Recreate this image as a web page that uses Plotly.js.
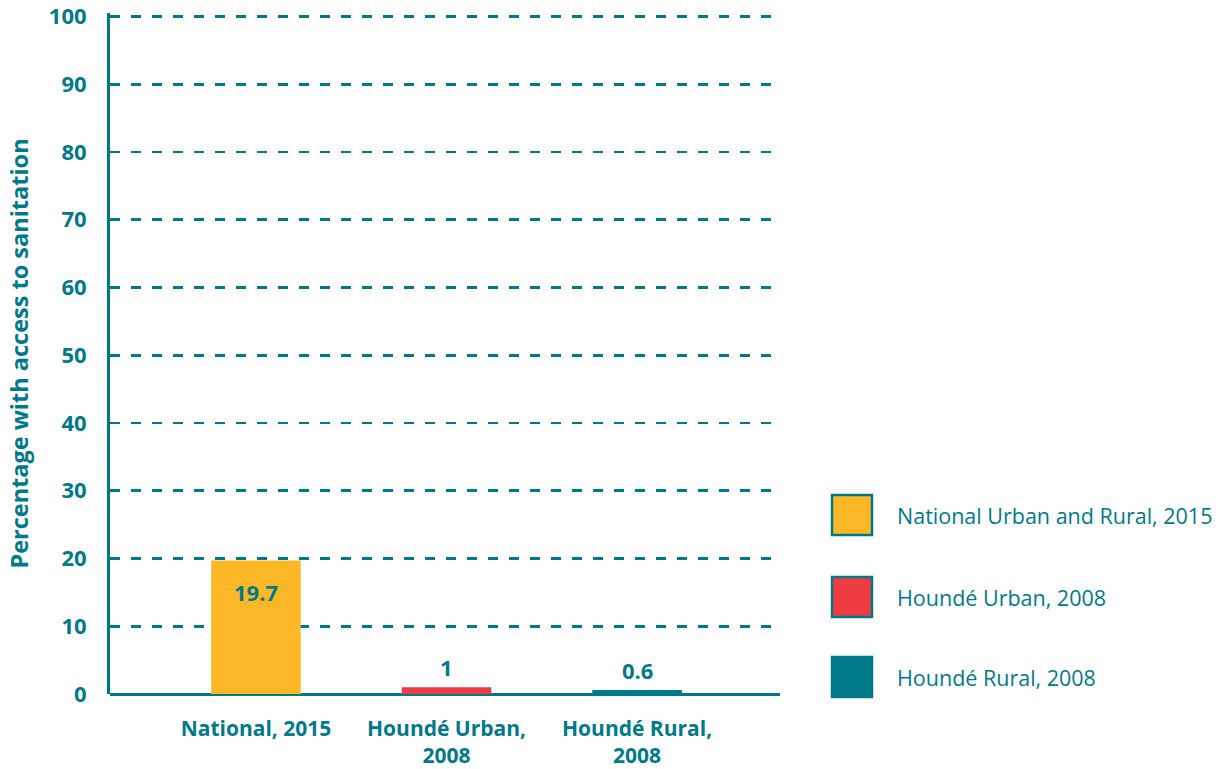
<!DOCTYPE html>
<html><head><meta charset="utf-8">
<script src="https://cdn.plot.ly/plotly-3.0.1.min.js"></script>
<style>html,body{margin:0;padding:0;background:#fff}#chart{width:1220px;height:769px}</style>
</head><body><div id="chart"></div>
<script>
const categories = ["National, 2015", "Houndé Urban,<br>2008", "Houndé Rural,<br>2008"];
const values = [19.7, 1, 0.6];
const valueLabels = ["19.7", "1", "0.6"];
const labelInside = [true, false, false];
const seriesNames = ["National Urban and Rural, 2015", "Houndé Urban, 2008", "Houndé Rural, 2008"];
const colors = ["#FBB725", "#EF3B42", "#007A8A"];
const tickVals = [0,10,20,30,40,50,60,70,80,90,100];

const teal = "#007A8A";
const FONT = "'Open Sans', Lato, sans-serif";

const trace = {
  type: "bar",
  x: categories,
  y: values,
  width: 0.47,
  marker: {color: colors, line: {width: 0}},
  hoverinfo: "none",
  showlegend: false
};

const plotTop = 12.6, plotBottom = 694, plotLeft = 110, plotRight = 780;
const toPY = p => (plotBottom - p) / (plotBottom - plotTop);
const toPX = p => (p - plotLeft) / (plotRight - plotLeft);

const shapes = [];
const annotations = [];

categories.forEach((c, i) => {
  annotations.push({
    xref: "x", yref: "y", x: c, y: values[i],
    text: valueLabels[i], showarrow: false,
    yanchor: labelInside[i] ? "top" : "bottom",
    yshift: labelInside[i] ? -14 : 3,
    font: {family: FONT, size: 22, color: teal, weight: 700}
  });
});

const legY = [515, 597, 677];
seriesNames.forEach((name, i) => {
  const yc = legY[i];
  shapes.push({type: "rect", xref: "paper", yref: "paper",
    x0: toPX(832), x1: toPX(872), y0: toPY(yc + 20), y1: toPY(yc - 20),
    fillcolor: colors[i], line: {color: teal, width: 2.5}});
  annotations.push({xref: "paper", yref: "paper", x: toPX(895), y: toPY(yc),
    xanchor: "left", yanchor: "middle", showarrow: false, text: name,
    font: {family: FONT, size: 21.5, color: teal}});
});

const layout = {
  width: 1220, height: 769,
  margin: {l: plotLeft, r: 1220 - plotRight, t: plotTop, b: 769 - plotBottom},
  paper_bgcolor: "#fff", plot_bgcolor: "#fff",
  xaxis: {
    type: "category",
    range: [-0.766, 2.75],
    showgrid: false, zeroline: false, showline: false,
    ticks: "", tickfont: {family: FONT, size: 21, color: teal, weight: 700},
    ticklabelstandoff: 20, fixedrange: true
  },
  yaxis: {
    range: [0, 100.5],
    tickvals: tickVals,
    showgrid: true, gridcolor: teal, gridwidth: 2.7, griddash: "10px,11px",
    zeroline: true, zerolinecolor: teal, zerolinewidth: 3,
    showline: true, linecolor: teal, linewidth: 3,
    ticks: "", tickfont: {family: FONT, size: 22, color: teal, weight: 700},
    ticklabelstandoff: 16,
    title: {text: "Percentage with access to sanitation", standoff: 14,
      font: {family: FONT, size: 23.5, color: teal, weight: 700}},
    fixedrange: true
  },
  shapes: shapes,
  annotations: annotations,
  showlegend: false
};

Plotly.newPlot("chart", [trace], layout, {displayModeBar: false, staticPlot: true});
</script>
</body></html>
